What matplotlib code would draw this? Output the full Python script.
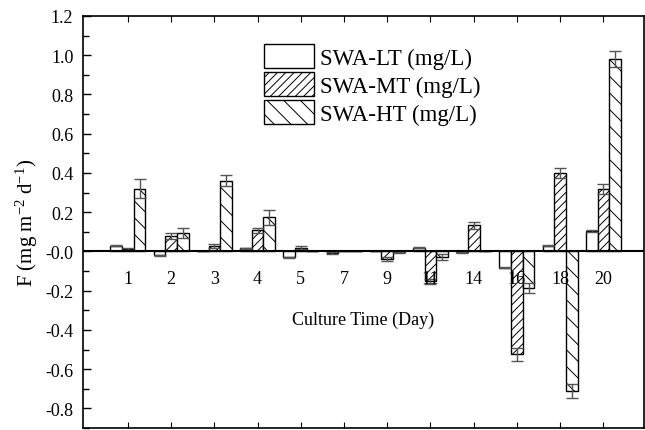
import matplotlib
matplotlib.use('Agg')
import matplotlib.pyplot as plt
import numpy as np
from matplotlib.patches import Patch
from matplotlib.ticker import MultipleLocator

plt.rcParams['font.family'] = ['Liberation Serif', 'DejaVu Serif']
plt.rcParams['mathtext.default'] = 'regular'
plt.rcParams['hatch.linewidth'] = 0.7

# culture days (categories)
days = ['1', '2', '3', '4', '5', '7', '9', '11', '14', '16', '18', '20']

# SWA-LT
lt = [0.03, -0.02, 0.0, 0.015, -0.03, -0.008, 0.0, 0.02, -0.005, -0.082, 0.03, 0.103]
lt_err = [0.003, 0.003, 0.0, 0.002, 0.003, 0.003, 0.0, 0.003, 0.002, 0.003, 0.004, 0.006]
# SWA-MT
mt = [0.012, 0.08, 0.03, 0.107, 0.02, 0.0, -0.038, -0.153, 0.133, -0.525, 0.398, 0.32]
mt_err = [0.005, 0.015, 0.01, 0.013, 0.006, 0.0, 0.01, 0.015, 0.017, 0.035, 0.025, 0.025]
# SWA-HT
ht = [0.32, 0.092, 0.36, 0.173, 0.0, 0.0, -0.005, -0.03, 0.002, -0.185, -0.71, 0.98]
ht_err = [0.05, 0.025, 0.028, 0.037, 0.0, 0.0, 0.002, 0.015, 0.0, 0.025, 0.035, 0.04]

labels = ['SWA-LT (mg/L)', 'SWA-MT (mg/L)', 'SWA-HT (mg/L)']
hatches = ['', '////', r'\\']

fig = plt.figure(figsize=(6.45, 4.31), dpi=100)
ax = fig.add_axes([0.1287, 0.0046, 0.8697, 0.956])

x = np.arange(len(days))
w = 0.27
err_kw = dict(ecolor='#555555', elinewidth=1.0, capsize=4, capthick=1.0)
series = [(lt, lt_err), (mt, mt_err), (ht, ht_err)]
for i, (vals, errs) in enumerate(series):
    ax.bar(x + (i - 1) * w, vals, w, yerr=errs, color='white', edgecolor='black',
           linewidth=1.0, hatch=hatches[i], error_kw=err_kw, zorder=2)

ax.axhline(0, color='black', lw=1.5, zorder=3)

ax.set_xlim(-1.04, 11.94)
ax.set_ylim(-0.9, 1.2)
ax.yaxis.set_minor_locator(MultipleLocator(0.1))
ax.set_yticks(np.arange(-0.8, 1.21, 0.2))
ax.set_yticklabels([f'{v:.1f}' for v in np.arange(-0.8, 1.21, 0.2)], fontsize=13)
ax.tick_params(axis='y', which='major', direction='in', length=6, width=1, pad=7)
ax.tick_params(axis='y', which='minor', direction='in', length=4, width=1)
ax.set_xticks(x)
ax.set_xticklabels([])
ax.tick_params(axis='x', direction='in', length=4, top=True, bottom=True)

for xi, d in zip(x, days):
    ax.text(xi, -0.138, d, ha='center', va='center', fontsize=13)

ax.text(0.5, -0.347, 'Culture Time (Day)', transform=ax.get_yaxis_transform(),
        ha='center', va='center', fontsize=13)
ax.set_ylabel('F (mg m$^{-2}$ d$^{-1}$)', fontsize=15, labelpad=4)

for s in ax.spines.values():
    s.set_linewidth(1.2)

handles = [Patch(facecolor='white', edgecolor='black', hatch=h, linewidth=1.0) for h in hatches]
ax.legend(handles, labels, loc='upper left', bbox_to_anchor=(0.294, 0.97), frameon=False,
          fontsize=16.5, handlelength=2.2, handleheight=1.2, labelspacing=0.15,
          handletextpad=0.25, borderpad=0.2)

fig.savefig('out.png', dpi=100)
